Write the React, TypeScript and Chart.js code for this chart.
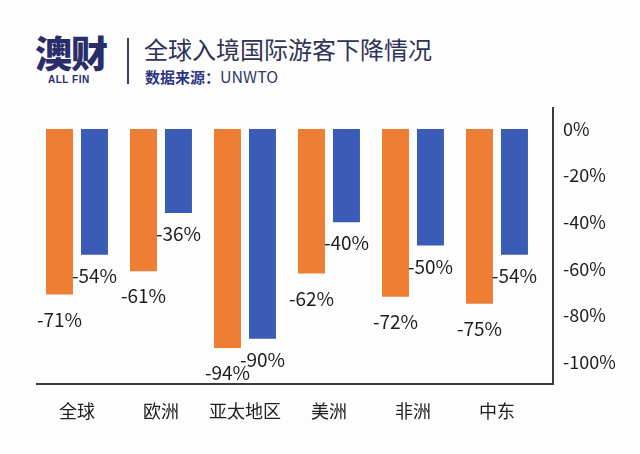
import React, { useEffect, useRef } from "react";
import { Chart, registerables } from "chart.js";

Chart.register(...registerables);

const categories = ["全球", "欧洲", "亚太地区", "美洲", "非洲", "中东"];
const seriesOrange = [-71, -61, -94, -62, -72, -75];
const seriesBlue = [-54, -36, -90, -40, -50, -54];
const yTickValues = [0, -20, -40, -60, -80, -100];

const title = "全球入境国际游客下降情况";
const sourceLabel = "数据来源：";
const sourceName = "UNWTO";

const ORANGE = "#EE7E34";
const BLUE = "#3A5CB6";
const FONT = "'Noto Sans CJK SC', 'Noto Sans', sans-serif";
const LABEL_GAPS = [25, 21];

const valueLabels = {
  id: "valueLabels",
  afterDatasetsDraw(chart: any) {
    const ctx = chart.ctx;
    ctx.save();
    ctx.font = `19px ${FONT}`;
    ctx.fillStyle = "#1e1e1e";
    ctx.textAlign = "center";
    ctx.textBaseline = "middle";
    chart.data.datasets.forEach((ds: any, di: number) => {
      const meta = chart.getDatasetMeta(di);
      meta.data.forEach((bar: any, i: number) => {
        const v = ds.data[i].y;
        ctx.fillText(`${v}%`, bar.x, bar.y + LABEL_GAPS[di]);
      });
    });
    ctx.restore();
  },
};

export default function App() {
  const canvasRef = useRef<HTMLCanvasElement | null>(null);

  useEffect(() => {
    const chart = new Chart(canvasRef.current as HTMLCanvasElement, {
      type: "bar",
      data: {
        datasets: [
          {
            label: "A",
            data: categories.map((_, i) => ({ x: i, y: seriesOrange[i] })),
            backgroundColor: ORANGE,
            categoryPercentage: 0.833,
            barPercentage: 0.771,
          },
          {
            label: "B",
            data: categories.map((_, i) => ({ x: i, y: seriesBlue[i] })),
            backgroundColor: BLUE,
            categoryPercentage: 0.833,
            barPercentage: 0.771,
          },
        ],
      },
      options: {
        animation: false,
        responsive: false,
        maintainAspectRatio: false,
        layout: { padding: { left: 37, top: 108, right: 0, bottom: 0 } },
        plugins: {
          legend: { display: false },
          tooltip: { enabled: false },
        },
        scales: {
          x: {
            type: "linear",
            offset: false,
            bounds: "data",
            min: -0.476,
            max: 5.667,
            grid: { display: false, drawTicks: false, offset: false },
            border: { display: true, color: "#3a3a3a", width: 2 },
            afterBuildTicks: (scale: any) => {
              scale.ticks = categories.map((_, i) => ({ value: i }));
            },
            afterFit: (scale: any) => {
              scale.height = 70;
              scale.paddingLeft = 0;
              scale.paddingRight = 0;
            },
            ticks: {
              autoSkip: false,
              maxRotation: 0,
              padding: 16,
              color: "#1e1e1e",
              font: { size: 18, family: FONT },
              callback: (v: any) => categories[Math.round(Number(v))] ?? "",
            },
          },
          y: {
            position: "right",
            min: -109.4,
            max: 9,
            grid: { display: false, drawTicks: false },
            border: { display: true, color: "#3a3a3a", width: 2 },
            afterBuildTicks: (scale: any) => {
              scale.ticks = yTickValues.map((v) => ({ value: v }));
            },
            afterFit: (scale: any) => {
              scale.width = 87;
            },
            ticks: {
              padding: 10,
              color: "#1e1e1e",
              font: { size: 18, family: FONT },
              callback: (v: any) => `${v}%`,
            },
          },
        },
      },
      plugins: [valueLabels],
    } as any);
    return () => chart.destroy();
  }, []);

  return (
    <div
      style={{
        position: "absolute",
        left: 0,
        top: 0,
        width: 640,
        height: 454,
        background: "#fdfdfd",
        overflow: "hidden",
        fontFamily: FONT,
      }}
    >
      <div
        style={{
          position: "absolute",
          left: 35,
          top: 28,
          fontSize: 37,
          fontWeight: 900,
          color: "#2a2d6b",
          letterSpacing: -1,
          lineHeight: "48px",
        }}
      >
        澳财
      </div>
      <div
        style={{
          position: "absolute",
          left: 48,
          top: 73,
          fontSize: 10,
          fontWeight: 700,
          color: "#2a2d6b",
          fontFamily: "'Liberation Sans', Arial, sans-serif",
          lineHeight: "14px",
          letterSpacing: 0.5,
        }}
      >
        ALL FIN
      </div>
      <div
        style={{
          position: "absolute",
          left: 127,
          top: 38,
          width: 2,
          height: 46,
          background: "#3b3f6e",
        }}
      />
      <div
        style={{
          position: "absolute",
          left: 144,
          top: 33,
          fontSize: 24,
          color: "#2f3455",
          lineHeight: "32px",
          whiteSpace: "nowrap",
        }}
      >
        {title}
      </div>
      <div
        style={{
          position: "absolute",
          left: 145,
          top: 65,
          fontSize: 15,
          color: "#2c3680",
          lineHeight: "22px",
          whiteSpace: "nowrap",
        }}
      >
        <span style={{ fontWeight: 700 }}>{sourceLabel}</span>
        <span style={{ fontSize: 16, color: "#333a66" }}>{sourceName}</span>
      </div>
      <canvas
        ref={canvasRef}
        width={640}
        height={454}
        style={{ position: "absolute", left: 0, top: 0, width: 640, height: 454 }}
      />
    </div>
  );
}
